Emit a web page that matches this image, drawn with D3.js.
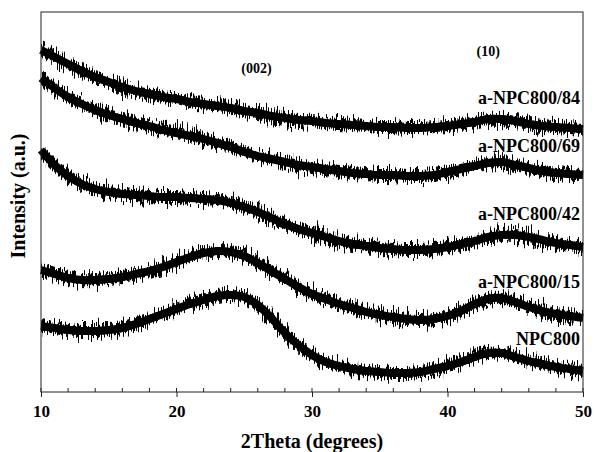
<!DOCTYPE html>
<html>
<head>
<meta charset="utf-8">
<script src="https://cdn.jsdelivr.net/npm/d3@7"></script>
<style>
  body { margin: 0; background: #fff; }
  svg text { font-family: "Liberation Serif", "Times New Roman", serif; font-weight: bold; fill: #000; }
</style>
</head>
<body>
<svg width="594" height="452"></svg>
<script>
// 2Theta grid (degrees) and intensities (a.u.)
var theta = [10, 11, 12, 13, 14, 15, 16, 17, 18, 19, 20, 21, 22, 23, 24, 25, 26, 27, 28, 29,
             30, 31, 32, 33, 34, 35, 36, 37, 38, 39, 40, 41, 42, 43, 44, 45, 46, 47, 48, 49, 50];

var a84 = [342, 335, 328, 321, 315, 310, 305, 301, 298, 295, 293, 290, 288, 286, 284, 281, 279, 276, 274, 272,
           271, 269, 268, 267, 266, 265, 265, 264, 264, 265, 266, 268, 270, 273, 273, 271, 268, 266, 265, 264, 263];
var a69 = [314, 304, 295, 288, 282, 277, 273, 269, 266, 262, 259, 256, 253, 249, 245, 240, 236, 233, 230, 227,
           225, 223, 221, 219, 218, 217, 217, 216, 216, 217, 220, 223, 226, 229, 230, 227, 224, 221, 219, 218, 217];
var a42 = [242, 227, 216, 208, 203, 200, 198, 197, 196, 195, 195, 194, 193, 192, 189, 185, 180, 174, 168, 163,
           159, 155, 151, 148, 146, 144, 143, 142, 142, 143, 145, 148, 151, 155, 157, 157, 155, 152, 149, 147, 145];
var a15 = [122, 118, 114, 112, 112, 113, 115, 118, 121, 125, 130, 135, 139, 141, 140, 136, 129, 121, 113, 105,
           98, 93, 88, 84, 80, 77, 75, 73, 72, 73, 76, 81, 88, 93, 94, 90, 85, 81, 78, 76, 74];
var npc800 = [66, 64, 62, 61, 61, 62, 64, 68, 73, 78, 83, 88, 92, 96, 97, 95, 87, 74, 59, 47,
              37, 30, 26, 23, 21, 20, 19, 19, 20, 23, 26, 30, 35, 39, 39, 35, 31, 28, 25, 23, 21];

var seriesNames = ["a-NPC800/84", "a-NPC800/69", "a-NPC800/42", "a-NPC800/15", "NPC800"];
var seriesValues = [a84, a69, a42, a15, npc800];

var xTicks = [10, 20, 30, 40, 50];
var xMinorTicks = [12, 14, 16, 18, 22, 24, 26, 28, 32, 34, 36, 38, 42, 44, 46, 48];

// peak annotations: [label, 2theta, intensity]
var peaks = [["(002)", 25.9, 319], ["(10)", 43, 336]];

var svg = d3.select("svg"),
    margin = {top: 12, right: 11, bottom: 60, left: 41},
    width = +svg.attr("width") - margin.left - margin.right,
    height = +svg.attr("height") - margin.top - margin.bottom;

var g = svg.append("g").attr("transform", "translate(" + margin.left + "," + margin.top + ")");

var x = d3.scaleLinear().domain([10, 50]).range([0, width]),
    y = d3.scaleLinear().domain([0, 380]).range([height, 0]);

// noisy look of the raw scans: vertical jitter texture only (two seeds)
var defs = svg.append("defs");
[3, 17].forEach(function(seed) {
  var filt = defs.append("filter")
      .attr("id", "noisy" + seed)
      .attr("filterUnits", "userSpaceOnUse")
      .attr("x", 0).attr("y", -20).attr("width", width).attr("height", height + 40);
  filt.append("feTurbulence")
      .attr("type", "fractalNoise")
      .attr("baseFrequency", "1.2 0.04")
      .attr("numOctaves", 2)
      .attr("seed", seed)
      .attr("result", "turb");
  filt.append("feColorMatrix")
      .attr("in", "turb")
      .attr("type", "matrix")
      .attr("values", "1 0 0 0 0  0 0 0 0 0.5  0 0 0 0 0.5  0 0 0 0 1")
      .attr("result", "disp");
  filt.append("feDisplacementMap")
      .attr("in", "SourceGraphic")
      .attr("in2", "disp")
      .attr("scale", 30)
      .attr("xChannelSelector", "G")
      .attr("yChannelSelector", "R");
});

var line = d3.line()
    .curve(d3.curveCatmullRom)
    .x(function(d, i) { return x(theta[i]); })
    .y(function(d) { return y(d); });

// curves: solid core plus jittered copies for the spiky edges
var scans = g.append("g");
scans.selectAll(".core")
    .data(seriesValues)
    .enter().append("path")
      .attr("class", "core")
      .attr("d", line)
      .attr("fill", "none")
      .attr("stroke", "#000")
      .attr("stroke-width", 8);

[3, 17].forEach(function(seed) {
  scans.append("g").attr("filter", "url(#noisy" + seed + ")")
    .selectAll(".spike")
      .data(seriesValues)
      .enter().append("path")
        .attr("class", "spike")
        .attr("d", line)
        .attr("fill", "none")
        .attr("stroke", "#000")
        .attr("stroke-width", 6);
});

// series labels, right aligned above each curve end
var labelOffset = [25, 23, 27, 30, 26];
g.selectAll(".lbl")
    .data(seriesNames)
    .enter().append("text")
      .attr("class", "lbl")
      .attr("x", width - 3)
      .attr("y", function(d, i) { var v = seriesValues[i]; return y(v[v.length - 1]) - labelOffset[i]; })
      .attr("text-anchor", "end")
      .style("font-size", "18px")
      .text(function(d) { return d; });

// peak labels
g.selectAll(".peak")
    .data(peaks)
    .enter().append("text")
      .attr("class", "peak")
      .attr("x", function(d) { return x(d[1]); })
      .attr("y", function(d) { return y(d[2]); })
      .attr("text-anchor", "middle")
      .style("font-size", "14px")
      .text(function(d) { return d[0]; });

// bottom axis: major ticks out, all ticks in
var xAxis = g.append("g")
    .attr("transform", "translate(0," + height + ")")
    .call(d3.axisBottom(x).tickValues(xTicks).tickSize(5).tickPadding(8).tickFormat(d3.format("d")));
xAxis.select(".domain").remove();
xAxis.selectAll("text").style("font-size", "17px").style("font-family", null);
xAxis.selectAll("line").attr("stroke", "#222");

g.append("g").selectAll("line")
    .data(xTicks.concat(xMinorTicks))
    .enter().append("line")
      .attr("x1", function(d) { return x(d); })
      .attr("x2", function(d) { return x(d); })
      .attr("y1", height)
      .attr("y2", height - 4)
      .attr("stroke", "#222");

// frame
g.append("rect")
    .attr("width", width)
    .attr("height", height)
    .attr("fill", "none")
    .attr("stroke", "#222")
    .attr("stroke-width", 1);

// axis titles
svg.append("text")
    .attr("x", margin.left + width / 2)
    .attr("y", 448)
    .attr("text-anchor", "middle")
    .style("font-size", "20px")
    .text("2Theta (degrees)");

svg.append("text")
    .attr("transform", "translate(25," + (margin.top + 184) + ") rotate(-90)")
    .attr("text-anchor", "middle")
    .style("font-size", "20px")
    .text("Intensity (a.u.)");
</script>
</body>
</html>
